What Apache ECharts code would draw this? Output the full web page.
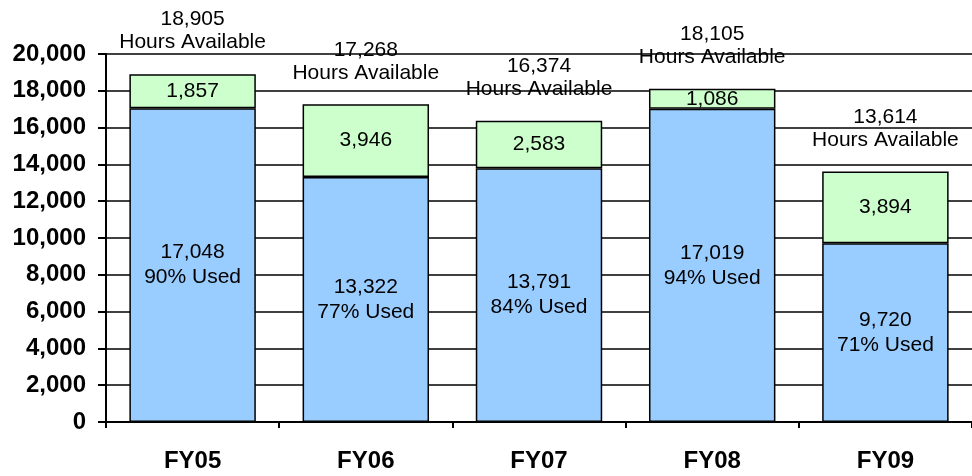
<!DOCTYPE html>
<html>
<head>
<meta charset="utf-8">
<script src="https://cdn.jsdelivr.net/npm/echarts@6/dist/echarts.min.js"></script>
<style>
html,body{margin:0;padding:0;background:#fff;}
#main{width:972px;height:476px;}
</style>
</head>
<body>
<div id="main"></div>
<script>
var categories = ['FY05', 'FY06', 'FY07', 'FY08', 'FY09'];
var used = [17048, 13322, 13791, 17019, 9720];
var unused = [1857, 3946, 2583, 1086, 3894];
var totals = [18905, 17268, 16374, 18105, 13614];
var usedPct = [90, 77, 84, 94, 71];
var yTicks = [0, 2000, 4000, 6000, 8000, 10000, 12000, 14000, 16000, 18000, 20000];

function fmt(v) {
	return v.toLocaleString('en-US');
}

window.onload = function () {
	var myChart = echarts.init(document.getElementById('main'));
	var font = 'Liberation Sans, Arial, sans-serif';
	myChart.setOption({
		animation: false,
		textStyle: { fontFamily: font },
		grid: { left: 106, right: 0, top: 54, bottom: 54 },
		xAxis: {
			type: 'category',
			data: categories,
			axisLine: { lineStyle: { color: '#000', width: 2 } },
			axisTick: { show: true, length: 6, lineStyle: { color: '#000', width: 2 } },
			axisLabel: { color: '#000', fontWeight: 'bold', fontSize: 24, margin: 27, fontFamily: font }
		},
		yAxis: {
			type: 'value',
			min: yTicks[0],
			max: yTicks[yTicks.length - 1],
			interval: 2000,
			axisLine: { show: true, lineStyle: { color: '#000', width: 2 } },
			axisTick: { show: true, length: 8, lineStyle: { color: '#000', width: 2 } },
			splitLine: { show: true, lineStyle: { color: '#000', width: 1.5 } },
			axisLabel: {
				color: '#000', fontWeight: 'bold', fontSize: 24, margin: 20, fontFamily: font,
				formatter: function (v) { return fmt(v); }
			}
		},
		series: [{
			name: 'Used',
			type: 'bar',
			stack: 'hrs',
			barWidth: '73%',
			data: used,
			itemStyle: { color: '#99CCFF', borderColor: '#000', borderWidth: 1.5 },
			label: {
				show: true,
				position: 'inside',
				color: '#000',
				fontSize: 21,
				lineHeight: 25,
				fontFamily: font,
				formatter: function (p) {
					return fmt(p.value) + '\n' + usedPct[p.dataIndex] + '% Used';
				}
			}
		}, {
			name: 'Unused',
			type: 'bar',
			stack: 'hrs',
			data: unused,
			itemStyle: { color: '#CCFFCC', borderColor: '#000', borderWidth: 1.5 },
			label: {
				show: true,
				position: 'inside',
				color: '#000',
				fontSize: 21,
				fontFamily: font,
				formatter: function (p) { return fmt(p.value); }
			}
		}, {
			name: 'Available',
			type: 'scatter',
			data: totals,
			symbolSize: 0,
			z: 10,
			itemStyle: { opacity: 1 },
			label: {
				show: true,
				position: 'top',
				distance: 20,
				color: '#000',
				opacity: 1,
				textBorderWidth: 0,
				fontSize: 21,
				lineHeight: 23,
				fontFamily: font,
				formatter: function (p) {
					return fmt(p.value) + '\nHours Available';
				}
			}
		}]
	});
};
</script>
</body>
</html>
